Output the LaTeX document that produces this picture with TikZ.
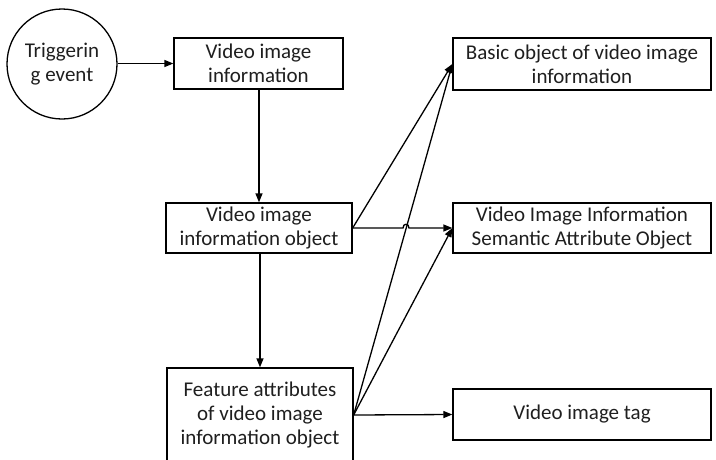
\documentclass[tikz,border=0pt]{standalone}
\usepackage{fontspec}
\setmainfont{Carlito}
\usetikzlibrary{arrows.meta}
\begin{document}
\begin{tikzpicture}[x=1pt,y=-1pt,
  every node/.style={font=\fontsize{21}{24}\selectfont, text=black!88, align=center, inner sep=0pt},
  box/.style={draw, line width=1.3pt, fill=white},
  arr/.style={line width=1.3pt, -{Triangle[length=9pt,width=7pt]}}]
\useasboundingbox (0,0) rectangle (716,459);

% event circle
\node[draw, circle, line width=1.3pt, minimum size=110pt] (ev) at (62,64) {Triggerin\\g event};

% left column
\node[box, minimum width=169pt, minimum height=51pt] (vi)  at (258.5,63.5) {Video image\\information};
\node[box, minimum width=186pt, minimum height=50pt] (vio) at (259,228) {Video image\\information object};
\node[box, minimum width=186pt, minimum height=94pt] (fa)  at (260,415) {Feature attributes\\of video image\\information object};

% right column
\node[box, minimum width=258pt, minimum height=52pt] (bo)  at (582,64) {Basic object of video image\\information};
\node[box, minimum width=258pt, minimum height=50pt] (sem) at (582,228) {Video Image Information\\Semantic Attribute Object};
\node[box, minimum width=258pt, minimum height=51pt] (tag) at (582,414.5) {Video image tag};

% small hop where two connectors cross
\coordinate (hopL) at (403,228);
\coordinate (hopR) at (409,228);

\draw[arr] (ev.east |- vi.west) -- (vi.west);
\draw[arr] (vi.south -| vio.north) -- (vio.north);
\draw[arr] (vio.south -| fa.north) -- (fa.north);
\draw[arr] (vio.east) -- (bo.west);
\draw[arr] (vio.east) -- (hopL) .. controls (403,223) and (409,223) .. (hopR) -- (sem.west);
\draw[arr] (fa.east) -- (bo.west);
\draw[arr] (fa.east) -- (sem.west);
\draw[arr] (fa.east) -- (tag.west);
\end{tikzpicture}
\end{document}
